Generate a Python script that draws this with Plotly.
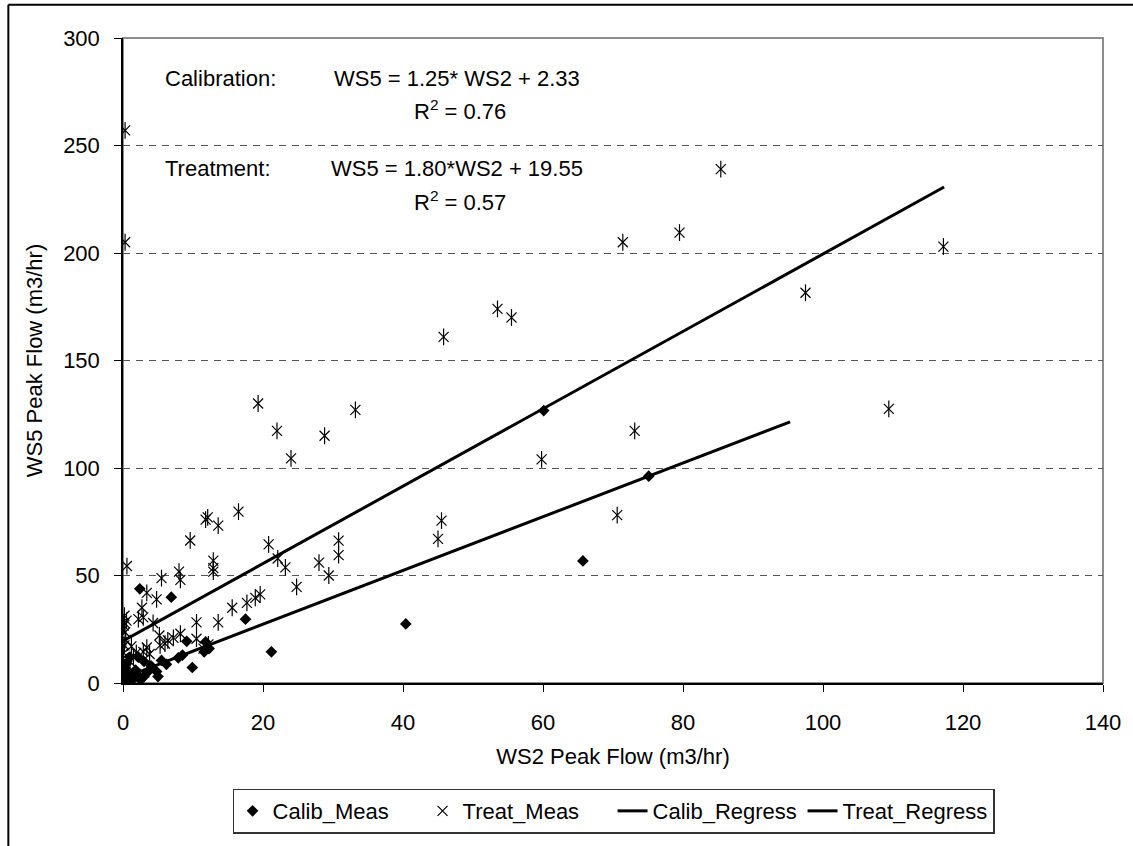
import plotly.graph_objects as go

# ---- data ----
calib_x = [0.2, 0.4, 0.1, 0.6, 0.3, 0.8, 0.2, 1.0, 1.2, 0.5, 1.5, 2.0, 2.5, 1.8, 3.0, 3.5,
           4.8, 5.0, 6.2, 7.9, 9.9, 9.1, 11.8, 11.6, 12.3, 21.2, 17.5, 2.4, 6.9, 40.4,
           60.1, 65.7, 75.1, 3.0, 4.0, 2.2, 1.0, 5.5, 8.5, 0.0, 0.1]
calib_y = [0.5, 1.5, 3.0, 2.0, 5.0, 4.0, 7.0, 1.0, 3.0, 9.0, 2.0, 4.0, 1.5, 6.0, 3.0, 5.0,
           5.3, 3.0, 8.7, 11.7, 7.2, 19.4, 19.1, 14.5, 16.0, 14.5, 29.7, 43.8, 39.9, 27.5,
           126.7, 56.8, 96.2, 10.0, 8.0, 12.0, 12.0, 10.5, 13.0, 0.3, 1.0]

treat_x = [0.3, 0.3, 85.4, 71.4, 79.5, 117.2, 97.5, 109.4, 73.1, 70.6, 53.5, 55.5, 45.8,
           19.3, 33.2, 22.0, 28.8, 24.0, 59.8, 45.5, 45.0, 30.8, 30.8, 28.0, 23.2, 29.4,
           24.8, 22.1, 20.8, 12.1, 11.8, 13.6, 16.5, 9.6, 0.56, 12.9, 12.9, 12.9, 8.0,
           8.2, 5.5, 3.4, 4.8, 2.7, 0.2, 2.9, 2.2, 4.3, 15.6, 17.7, 18.9, 19.6, 10.5,
           13.6, 8.2, 10.5, 5.2, 6.4, 6.0, 5.3, 2.9, 3.4, 3.8, 1.9, 0.3, 0.1, 0.2, 0.0,
           0.4, 0.1, 0.6, 1.0, 1.5, 0.3, 0.2, 0.5, 0.2, 1.2, 7.2, 12.2, 11.5]
treat_y = [257, 205, 239, 205, 209.5, 203, 181.5, 127.5, 117.3, 78.1, 174, 170, 161,
           130, 127, 117.3, 115, 104.5, 104, 75.5, 67, 66.2, 59.5, 56, 53.8, 50,
           44.7, 57.9, 64.5, 77, 76, 73.2, 79.7, 66.3, 54.4, 56.9, 53.4, 51.8, 51.8,
           48, 48.8, 41.9, 38.9, 35, 31.3, 30.5, 29.7, 27.9, 35, 37.3, 39.6, 41.2, 28.2,
           28.2, 22.9, 20.6, 22.1, 19.8, 18.3, 17.5, 14.5, 16.5, 13.5, 14, 23.6, 26.7, 17.5, 11.5,
           20, 14, 8, 10, 12, 5, 3, 29, 28, 17, 21, 18, 16]

calib_slope, calib_int = 1.25, 2.33
treat_slope, treat_int = 1.80, 19.55
calib_line_x = [0, 95.3]
treat_line_x = [0, 117.3]

x_ticks = [0, 20, 40, 60, 80, 100, 120, 140]
y_ticks = [0, 50, 100, 150, 200, 250, 300]

FONT = "Arial, Liberation Sans, sans-serif"
FS = 22

fig = go.Figure()

fig.add_trace(go.Scatter(
    x=calib_x, y=calib_y, mode="markers", name="Calib_Meas",
    marker=dict(symbol="diamond", size=9, color="black", line=dict(width=0))))

fig.add_trace(go.Scatter(
    x=treat_x, y=treat_y, mode="markers", name="Treat_Meas", legendgroup="tm",
    marker=dict(symbol="x-thin-open", size=10, color="black",
                line=dict(width=1.2, color="black"))))
fig.add_trace(go.Scatter(
    x=treat_x, y=treat_y, mode="markers", name="Treat_Meas", legendgroup="tm",
    showlegend=False, hoverinfo="skip",
    marker=dict(symbol="line-ns-open", size=12, color="black",
                line=dict(width=1.2, color="black"))))

fig.add_trace(go.Scatter(
    x=calib_line_x, y=[calib_slope * v + calib_int for v in calib_line_x],
    mode="lines", name="Calib_Regress", line=dict(color="black", width=3)))
fig.add_trace(go.Scatter(
    x=treat_line_x, y=[treat_slope * v + treat_int for v in treat_line_x],
    mode="lines", name="Treat_Regress", line=dict(color="black", width=3)))

# plot-area gray frame (top/right) and chart border
fig.add_shape(type="rect", xref="paper", yref="paper", x0=0, x1=1, y0=0, y1=1,
              line=dict(color="#8c8c8c", width=2), layer="below")
fig.add_shape(type="line", xref="paper", yref="paper", x0=-0.117, x1=1.2,
              y0=1.0515, y1=1.0515, line=dict(color="black", width=2))
fig.add_shape(type="line", xref="paper", yref="paper", x0=-0.117, x1=-0.117,
              y0=1.0515, y1=-0.3, line=dict(color="black", width=2))

ann_font = dict(family=FONT, size=FS, color="black")
def px_x(px):
    return (px - 123) / 984.0
def px_y(py):
    return (698 - py) / 660.0

anns = [
    ("Calibration:", 163, 79),
    ("WS5 = 1.25* WS2 + 2.33", 333, 79),
    ("R<sup>2</sup> = 0.76", 413, 112),
    ("Treatment:", 163, 172),
    ("WS5 = 1.80*WS2 + 19.55", 330, 172),
    ("R<sup>2</sup> = 0.57", 413, 205),
]
for t, ax_, ay_ in anns:
    fig.add_annotation(text=t, xref="paper", yref="paper", x=px_x(ax_), y=px_y(ay_),
                       xanchor="left", yanchor="middle", showarrow=False, font=ann_font)

fig.update_layout(
    width=1133, height=846,
    margin=dict(l=123, r=26, t=38, b=148),
    paper_bgcolor="white", plot_bgcolor="white",
    font=dict(family=FONT, size=FS, color="black"),
    showlegend=True,
    legend=dict(orientation="h", x=px_x(233), y=px_y(806), xanchor="left", yanchor="top",
                bordercolor="#333333", borderwidth=1.5, bgcolor="white",
                font=dict(family=FONT, size=FS, color="black"),
                itemwidth=30, tracegroupgap=0,
                entrywidth=145, entrywidthmode="pixels"),
    xaxis=dict(range=[0, 140], tickvals=x_ticks, showgrid=False, zeroline=False,
               showline=True, linecolor="black", linewidth=1.5,
               ticks="outside", ticklen=7, tickcolor="black", tickwidth=1,
               ticklabelstandoff=12,
               title=dict(text="WS2 Peak Flow (m3/hr)", standoff=14,
                          font=dict(family=FONT, size=FS))),
    yaxis=dict(range=[0, 300], tickvals=y_ticks, showgrid=True, gridcolor="#555555",
               griddash="7px,6px", gridwidth=1, zeroline=False,
               showline=True, linecolor="black", linewidth=1.5,
               ticks="outside", ticklen=7, tickcolor="black", tickwidth=1,
               ticklabelstandoff=10,
               title=dict(text="WS5 Peak Flow (m3/hr)", standoff=14,
                          font=dict(family=FONT, size=FS))),
)

fig.write_html("out.html",
               config={"displayModeBar": False},
               post_script="document.body.style.margin='0px';"
                           "document.body.style.overflow='hidden';")
